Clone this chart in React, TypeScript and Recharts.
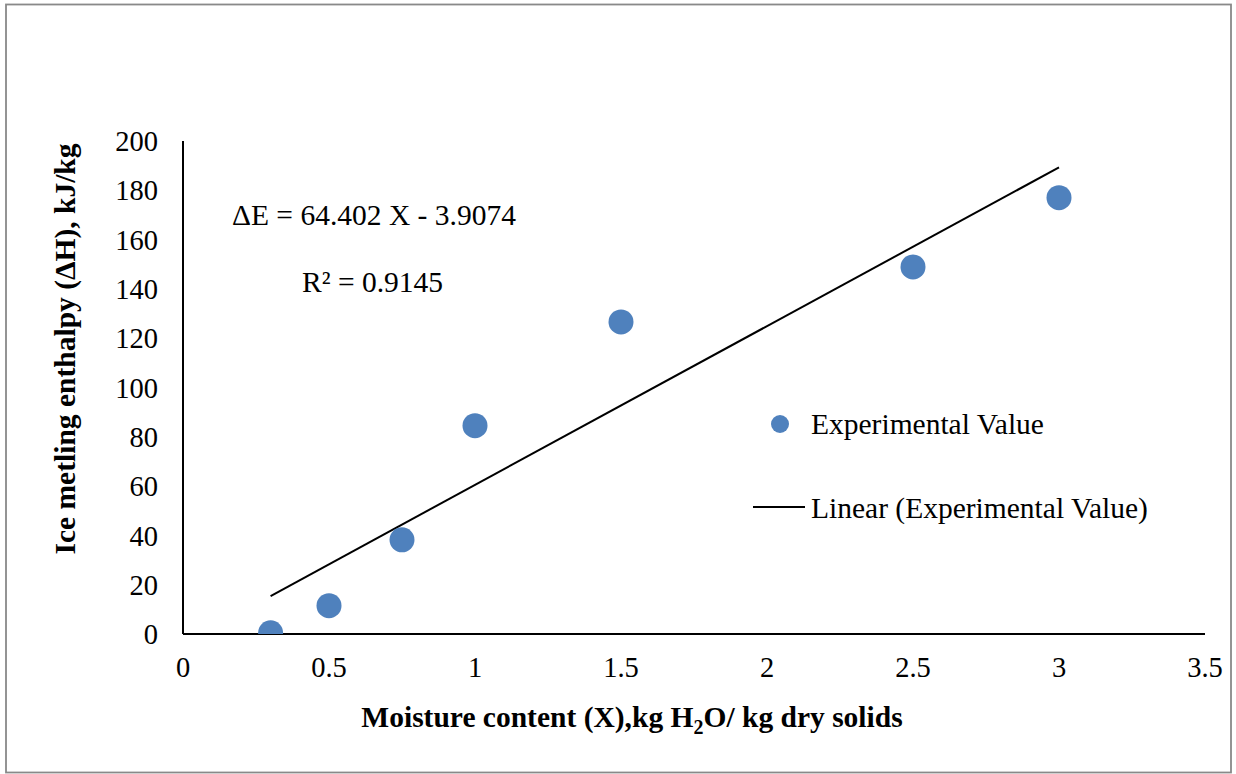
import React from 'react';
import { ScatterChart, Scatter, XAxis, YAxis } from 'recharts';

const moisture = [0.3, 0.5, 0.75, 1, 1.5, 2.5, 3];
const enthalpy = [0.5, 11.5, 38.2, 84.5, 126.6, 148.9, 177];

// Linear trend endpoints (ΔE = 64.402 X - 3.9074)
const trendX = [0.3, 3];
const trendY = [15.41, 189.3];

const xTicks = [0, 0.5, 1, 1.5, 2, 2.5, 3, 3.5];
const yTicks = [0, 20, 40, 60, 80, 100, 120, 140, 160, 180, 200];

const pointData = moisture.map((x, i) => ({ x, y: enthalpy[i] }));
const trendData = trendX.map((x, i) => ({ x, y: trendY[i] }));

const FONT = '"Liberation Serif", "Times New Roman", serif';
const BLUE = '#4F81BD';
const FS = 29.5;

const Dot = (props: any) => {
  const { cx, cy } = props;
  if (cx == null || cy == null) return <g />;
  return <circle cx={cx} cy={cy} r={12.5} fill={BLUE} />;
};

const Empty = () => <g />;

export default function App() {
  return (
    <div style={{ position: 'absolute', left: 0, top: 0, width: 1236, height: 774, background: '#fff' }}>
      <ScatterChart
        width={1236}
        height={774}
        margin={{ top: 141, right: 31, bottom: 80, left: 103 }}
      >
        <XAxis
          type="number"
          dataKey="x"
          domain={[0, 3.5]}
          ticks={xTicks}
          interval={0}
          height={60}
          tickLine={false}
          tickSize={0}
          tickMargin={23}
          axisLine={{ stroke: '#000', strokeWidth: 2 }}
          tick={{ fill: '#000', fontSize: 28.5, fontFamily: FONT }}
          allowDataOverflow
        />
        <YAxis
          type="number"
          dataKey="y"
          domain={[0, 200]}
          ticks={yTicks}
          interval={0}
          width={80}
          tickLine={false}
          tickSize={0}
          tickMargin={25}
          axisLine={{ stroke: '#000', strokeWidth: 2 }}
          tick={{ fill: '#000', fontSize: 28.5, fontFamily: FONT }}
          allowDataOverflow
        />
        <Scatter
          name="Linear (Experimental Value)"
          data={trendData}
          line={{ stroke: '#000', strokeWidth: 2 }}
          lineType="joint"
          shape={<Empty />}
          isAnimationActive={false}
        />
        <Scatter
          name="Experimental Value"
          data={pointData}
          shape={<Dot />}
          fill={BLUE}
          isAnimationActive={false}
        />
      </ScatterChart>
      <svg
        width={1236}
        height={774}
        style={{ position: 'absolute', left: 0, top: 0, pointerEvents: 'none' }}
        fontFamily={FONT}
      >
        <rect x={6} y={4.5} width={1225} height={768} fill="none" stroke="#898989" strokeWidth={1.8} />
        <text x={232} y={225} fontSize={FS} fill="#000">ΔE = 64.402 X - 3.9074</text>
        <text x={302} y={292} fontSize={FS} fill="#000">R² = 0.9145</text>
        <circle cx={780} cy={424} r={9} fill={BLUE} />
        <text x={811} y={434} fontSize={FS} fill="#000">Experimental Value</text>
        <line x1={753} y1={507} x2={805} y2={507} stroke="#000" strokeWidth={2} />
        <text x={811} y={518} fontSize={FS} fill="#000">Linear (Experimental Value)</text>
        <text x={632} y={727} fontSize={FS} fontWeight="bold" textAnchor="middle" fill="#000">
          Moisture content (X),kg H<tspan fontSize={20} dy={7}>2</tspan><tspan dy={-7}>O/ kg dry solids</tspan>
        </text>
        <text
          x={75}
          y={349}
          fontSize={FS}
          fontWeight="bold"
          textAnchor="middle"
          fill="#000"
          transform="rotate(-90 75 349)"
        >
          Ice metling enthalpy (ΔH), kJ/kg
        </text>
      </svg>
    </div>
  );
}
